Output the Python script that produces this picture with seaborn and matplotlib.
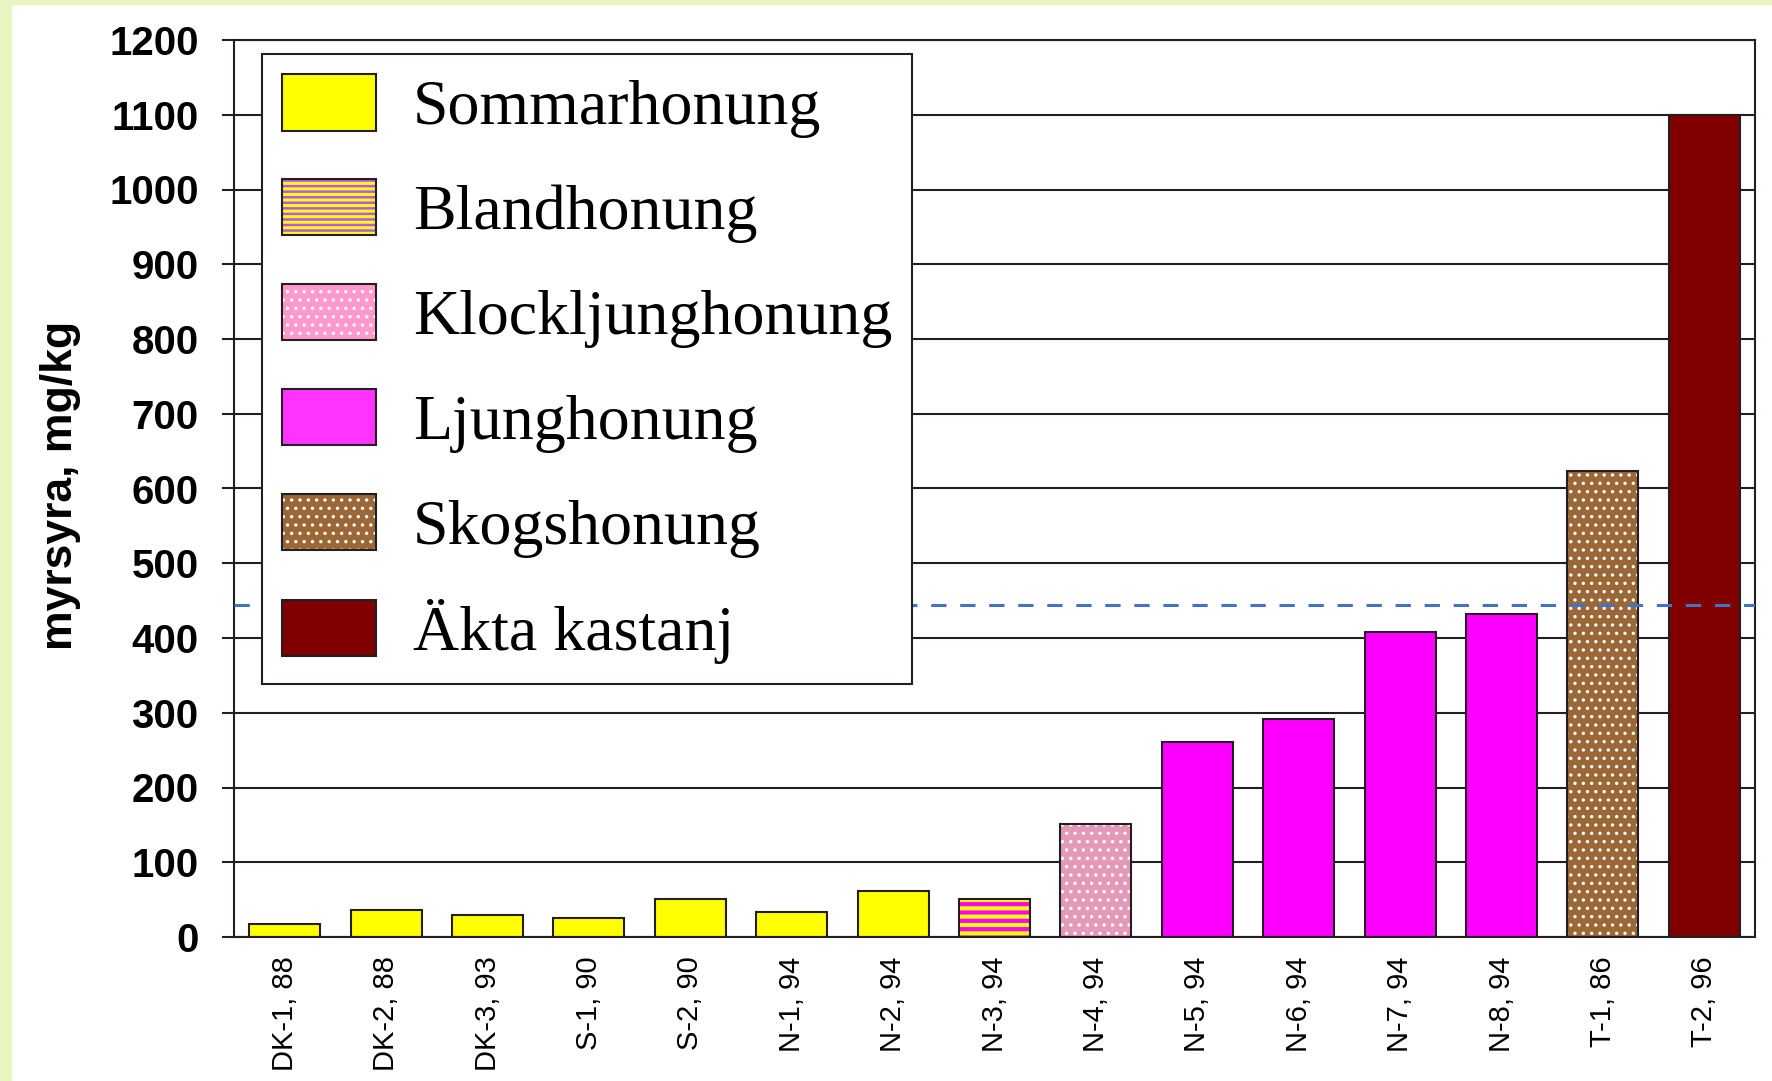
import matplotlib
matplotlib.use('Agg')
import matplotlib.pyplot as plt
import matplotlib.patches as mpatches
import matplotlib.colors as mcolors
import seaborn as sns

# data
samples = ['DK-1, 88', 'DK-2, 88', 'DK-3, 93', 'S-1, 90', 'S-2, 90', 'N-1, 94', 'N-2, 94',
           'N-3, 94', 'N-4, 94', 'N-5, 94', 'N-6, 94', 'N-7, 94', 'N-8, 94', 'T-1, 86', 'T-2, 96']
myrsyra = [18, 36, 29, 26, 51, 33, 62, 51, 151, 261, 292, 408, 432, 624, 1100]
honey_type = (['Sommarhonung'] * 7 + ['Blandhonung', 'Klockljunghonung']
              + ['Ljunghonung'] * 4 + ['Skogshonung', 'Äkta kastanj'])
types = ['Sommarhonung', 'Blandhonung', 'Klockljunghonung', 'Ljunghonung', 'Skogshonung', 'Äkta kastanj']
y_ticks = list(range(0, 1201, 100))
reference_level = 444

# styling per honey type
bar_colors = ['#ffff00', '#ffff00', '#e39ab9', '#ff00ff', '#9a6837', '#800000']
legend_colors = ['#ffff00', '#ffff00', '#ff99cc', '#ff33ff', '#9a6837', '#800000']
hatches = ['', '--', '..', '', '..', '']
legend_hatches = ['', '---', '..', '', '..', '']
hatch_colors = ['#ffff00', '#ff00ff', '#ffffff', '#ff00ff', '#ffffff', '#800000']
legend_hatch_colors = ['#ffff00', '#b455ff', '#ffffff', '#ff33ff', '#ffffff', '#800000']
hatch_widths = [1.0, 3.0, 1.2, 1.0, 1.2, 1.0]
legend_hatch_widths = [1.0, 1.8, 1.2, 1.0, 1.2, 1.0]

dark = '#231f20'

fig = plt.figure(figsize=(17.72, 10.81), dpi=100)
fig.add_artist(mpatches.Rectangle((0, 0), 11 / 1772, 1, transform=fig.transFigure,
                                  color='#e9f5c0', zorder=0))
fig.add_artist(mpatches.Rectangle((0, 1 - 4 / 1081), 1, 4 / 1081, transform=fig.transFigure,
                                  color='#e9f5c0', zorder=0))
ax = fig.add_axes([234 / 1772, 144 / 1081, 1521 / 1772, 897 / 1081])

sns.barplot(x=samples, y=myrsyra, hue=honey_type, hue_order=types,
            palette=dict(zip(types, bar_colors)), dodge=False, width=0.7,
            saturation=1, edgecolor=dark, linewidth=1.5, legend=False, ax=ax, zorder=2)


def style_patch(p, hatch, hcolor, hwidth):
    if hatch:
        p.set_hatch(hatch)
        p._hatch_color = mcolors.to_rgba(hcolor)
        if hasattr(p, 'set_hatch_linewidth'):
            p.set_hatch_linewidth(hwidth)


for p in ax.patches:
    k = types.index(honey_type[int(round(p.get_x() + p.get_width() / 2))])
    style_patch(p, hatches[k], hatch_colors[k], hatch_widths[k])

ax.axhline(reference_level, color='#4472c4', lw=2.2, ls=(0, (5, 4.5)), zorder=3)

ax.set_xlim(-0.5, len(samples) - 0.5)
ax.set_ylim(0, 1200)
ax.set_yticks(y_ticks)
ax.set_axisbelow(True)
ax.yaxis.grid(True, color=dark, lw=1.5)
ax.xaxis.grid(False)
for s in ax.spines.values():
    s.set_color(dark)
    s.set_linewidth(1.5)

ax.tick_params(axis='y', length=8.5, width=1.5, color=dark, pad=17, labelsize=29)
for lab in ax.get_yticklabels():
    lab.set_fontweight('bold')
    lab.set_family('Liberation Sans')
ax.tick_params(axis='x', length=0, pad=14)
ax.set_xticks(range(len(samples)))
ax.set_xticklabels(samples, rotation=90, fontsize=21, family='Liberation Sans', va='top', ha='center')

ax.set_xlabel('')
ax.set_ylabel('myrsyra, mg/kg', fontsize=32, fontweight='bold', family='Liberation Sans')
ax.yaxis.set_label_coords(-0.1006, 0.503)

handles = [mpatches.Patch(facecolor=legend_colors[k], edgecolor=dark, linewidth=1.5, label=t)
           for k, t in enumerate(types)]

leg = ax.legend(handles=handles, loc='upper left', bbox_to_anchor=(0.0184, 0.984),
                borderaxespad=0, fancybox=False, framealpha=1, edgecolor=dark,
                prop={'family': 'Liberation Serif', 'size': 46},
                handlelength=1.47, handleheight=0.98, handletextpad=0.58,
                labelspacing=0.64, borderpad=0.31)
leg.get_frame().set_linewidth(1.5)
for k, h in enumerate(leg.legend_handles):
    style_patch(h, legend_hatches[k], legend_hatch_colors[k], legend_hatch_widths[k])

fig.savefig('out.png', dpi=100, facecolor='white')
